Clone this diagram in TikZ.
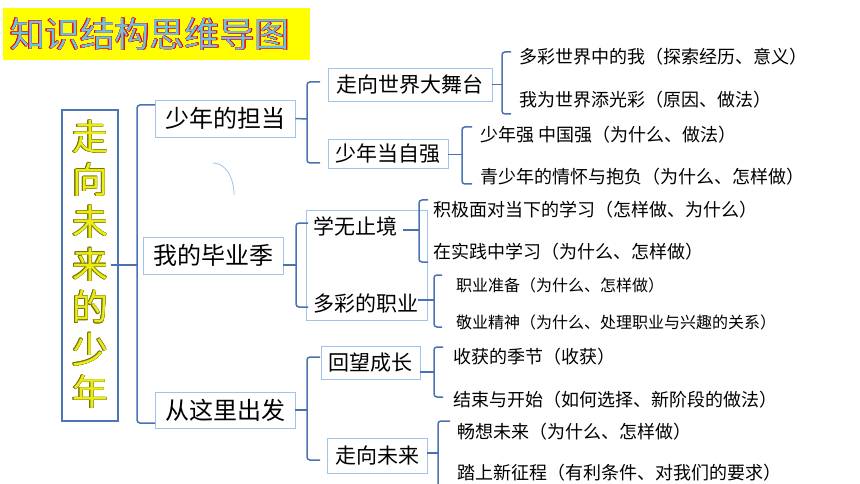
\documentclass[tikz,border=0pt]{standalone}
\usepackage{fontspec}
\usepackage[copies]{contour}
\newfontfamily\cjk{Noto Sans CJK SC}
\definecolor{brc}{RGB}{74,114,178}
\definecolor{boxc}{RGB}{160,195,235}
\definecolor{mainbox}{RGB}{79,118,180}
\definecolor{ttlblue}{RGB}{100,195,230}
\definecolor{ttlyel}{RGB}{255,255,0}
\definecolor{mainyel}{RGB}{235,235,25}
\definecolor{mainolive}{RGB}{120,120,10}
\begin{document}
\begin{tikzpicture}[x=1pt,y=-1pt,
  br/.style={draw=brc,line width=1.5pt,rounded corners=3pt},
  box/.style={draw=boxc,line width=0.9pt,inner sep=0pt,align=center},
  lvone/.style={box,font=\cjk\fontsize{24}{24}\selectfont,minimum width=140pt,minimum height=37pt},
  lvtwo/.style={box,font=\cjk\fontsize{21}{21}\selectfont},
  plain/.style={inner sep=0pt,font=\cjk\fontsize{21}{21}\selectfont},
  leaf/.style={anchor=west,inner sep=0pt,font=\cjk\fontsize{18}{18}\selectfont},
  leafs/.style={anchor=west,inner sep=0pt,font=\cjk\fontsize{16}{16}\selectfont}]
\useasboundingbox[fill=white] (0,0) rectangle (860,484);

% title
\fill[ttlyel] (3,8) rectangle (310,60);
\contourlength{0.12pt}
\contournumber{12}
\node[inner sep=0pt,font=\cjk\fontsize{35}{35}\selectfont,text=ttlblue] (title) at (150,34) {\contour{red}{知识结构思维导图}};

% main box
\node[draw=mainbox,line width=1.6pt,minimum width=56pt,minimum height=311pt,inner sep=0pt] (main) at (90,265.5) {};
\contourlength{0.15pt}
\foreach \c [count=\i from 0] in {走,向,未,来,的,少,年}
  \node[inner sep=0pt,font=\cjk\fontsize{36}{36}\selectfont,text=mainyel] (m\i) at (90,137+42.5*\i) {\contour{mainolive}{\c}};

% level 1
\node[lvone] (La) at (225,118.5) {少年的担当};
\node[lvone] (Lb) at (213,255.5) {我的毕业季};
\node[lvone,minimum height=36pt] (Lc) at (225,410) {从这里出发};

\coordinate (mainbr) at (137,265);
\draw[br] ([xshift=-8pt]main.east |- mainbr) -- (mainbr);
\draw[br] (155,105) -- (137,105) -- (137,423) -- (155,423);

% artifact arc
\draw[boxc,line width=0.8pt] (213,163) .. controls (226,163) and (234,178) .. (234,195);

% ---- branch A
\node[lvtwo,minimum width=164pt,minimum height=33pt] (A1) at (410,84.5) {走向世界大舞台};
\node[lvtwo,minimum width=120pt,minimum height=29pt] (A2) at (388,153.5) {少年当自强};
\coordinate (Lam) at (307,119);
\draw[br] (La.east) -- (Lam);
\draw[br] (320,82) -- (307,82) -- (307,163) -- (320,163);

\node[leaf] (a11) at (519,57) {多彩世界中的我（探索经历、意义）};
\node[leaf] (a12) at (519,100) {我为世界添光彩（原因、做法）};
\coordinate (A1m) at (502,84.5);
\draw[br] (A1.east) -- (A1m);
\draw[br] (511,52) -- (502,52) -- (502,114) -- (511,114);

\node[leaf] (a21) at (480,135) {少年强 中国强（为什么、做法）};
\node[leaf] (a22) at (480,177) {青少年的情怀与抱负（为什么、怎样做）};
\coordinate (A2m) at (462,154.5);
\draw[br] (A2.east |- A2m) -- (A2m);
\draw[br] (472,127) -- (462,127) -- (462,184) -- (472,184);

% ---- branch B
\node[box,minimum width=121pt,minimum height=110pt] (Bbox) at (366.5,265) {};
\node[plain] (B1) at (355,226) {学无止境};
\node[plain] (B2) at (365.5,303) {多彩的职业};
\coordinate (Lbm) at (296,265);
\draw[br] (Lb.east |- Lbm) -- (Lbm);
\draw[br] (308,223) -- (296,223) -- (296,307) -- (308,307);

\node[leaf] (b11) at (433,210) {积极面对当下的学习（怎样做、为什么）};
\node[leaf] (b12) at (433,252) {在实践中学习（为什么、怎样做）};
\coordinate (B1m) at (419,230);
\draw[br] ([xshift=6pt]B1.east |- B1m) -- (B1m);
\draw[br] (428,200) -- (419,200) -- (419,262) -- (428,262);

\node[leafs] (b21) at (456,285) {职业准备（为什么、怎样做）};
\node[leafs] (b22) at (456,322) {敬业精神（为什么、处理职业与兴趣的关系）};
\coordinate (B2m) at (434,300);
\draw[br] (B2.east |- B2m) -- (B2m);
\draw[br] (442,275) -- (434,275) -- (434,327) -- (442,327);

% ---- branch C
\node[lvtwo,minimum width=99pt,minimum height=33pt] (C1) at (370.5,362.5) {回望成长};
\node[lvtwo,minimum width=100pt,minimum height=35pt] (C2) at (377,455.5) {走向未来};
\coordinate (Lcm) at (307,410);
\draw[br] (Lc.east) -- (Lcm);
\draw[br] (320,357) -- (307,357) -- (307,460) -- (320,460);

\node[leaf] (c11) at (453,357) {收获的季节（收获）};
\node[leaf] (c12) at (453,400) {结束与开始（如何选择、新阶段的做法）};
\coordinate (C1m) at (434,372);
\draw[br] (C1.east |- C1m) -- (C1m);
\draw[br] (443,347) -- (434,347) -- (434,397) -- (443,397);

\node[leaf] (c21) at (457,432) {畅想未来（为什么、怎样做）};
\node[leaf] (c22) at (457,473) {踏上新征程（有利条件、对我们的要求）};
\coordinate (C2m) at (438,453);
\draw[br] (C2.east |- C2m) -- (C2m);
\draw[br] (450,421) -- (438,421) -- (438,492);
\end{tikzpicture}
\end{document}
